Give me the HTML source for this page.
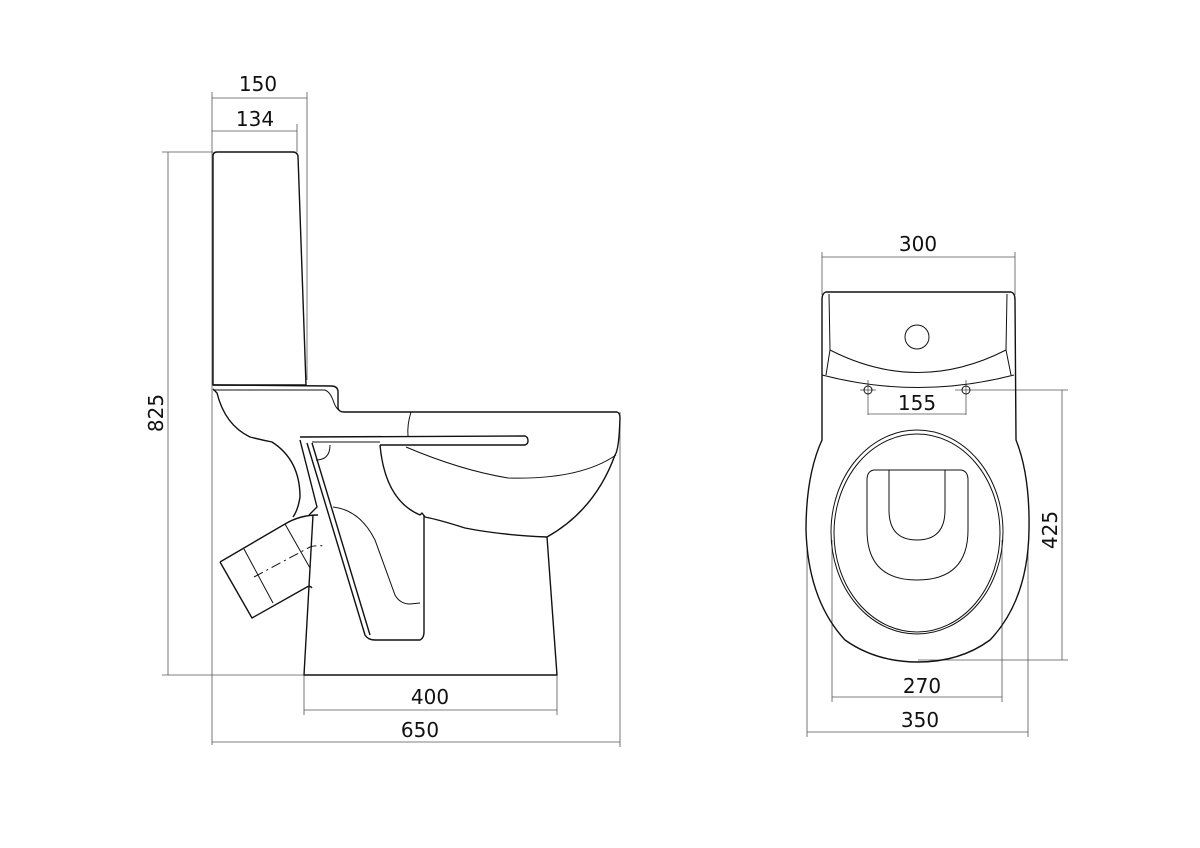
<!DOCTYPE html>
<html><head><meta charset="utf-8"><style>
html,body{margin:0;padding:0;background:#fff}
svg{display:block}
text{font-family:"DejaVu Sans","Liberation Sans",sans-serif;font-size:20px;fill:#111;text-anchor:middle}
.t{stroke:#555;stroke-width:0.8;fill:none}
.o{stroke:#111;stroke-width:1.4;fill:none;stroke-linejoin:round}
.f{stroke:#111;stroke-width:1;fill:none}
</style></head><body>
<svg width="1200" height="848" viewBox="0 0 1200 848">
<g class="t">
<line x1="212" y1="92" x2="212" y2="745"/>
<line x1="307" y1="92" x2="307" y2="380"/>
<line x1="212" y1="98" x2="307" y2="98"/>
<line x1="297" y1="124" x2="297" y2="152"/>
<line x1="212" y1="131" x2="297" y2="131"/>
<line x1="162" y1="152" x2="213" y2="152"/>
<line x1="168" y1="152" x2="168" y2="675"/>
<line x1="162" y1="675" x2="304" y2="675"/>
<line x1="304" y1="675" x2="304" y2="715"/>
<line x1="557" y1="675" x2="557" y2="715"/>
<line x1="304" y1="710" x2="557" y2="710"/>
<line x1="620" y1="412" x2="620" y2="747"/>
<line x1="212" y1="742" x2="620" y2="742"/>
</g>
<text x="258" y="91">150</text>
<text x="255" y="126">134</text>
<text x="430" y="704">400</text>
<text x="420" y="737">650</text>
<text transform="translate(163,413) rotate(-90)">825</text>
<path class="o" d="M213,385 L213,156 Q213,152 217,152 L293,152 Q297,152 298,156 L306,385 Z"/>
<path class="o" d="M213,385 L331,386 Q338,386 338,392 L338,408 Q339,412 344,412 L617,412 Q620,413 620,418 Q619,450 615,455 Q595,510 547,537 L557,675 L304,675 L313,515"/>
<path class="o" d="M213,389 L217,393 Q225,425 250,437 Q262,440 272,442 Q300,460 300,497 Q298,510 293,517"/>
<path class="f" d="M213,390 L325,390 Q330,392 333,400 Q336,410 342,412"/>
<path class="f" d="M411,412 Q407,425 408,436"/>
<path class="o" d="M300,437 L525,436 Q528,437 528,441 Q528,444 525,445 L380,445"/>
<path class="f" d="M406,447 Q460,470 508,478 Q580,480 616,455"/>
<path class="o" d="M380,445 Q385,500 420,515 L422,513 L425,517 Q440,520 465,528 Q500,535 547,537"/>
<path class="o" d="M300,440 L317,507 L309,515"/>
<path class="o" d="M307,443 L365,635 Q368,640 375,640 L420,640 Q424,638 424,632 L424,515"/>
<path class="o" d="M312,443 L370,635"/>
<path class="f" d="M312,442 L380,442 M330,445 Q330,460 316,460"/>
<path class="f" d="M333,507 Q360,510 375,540 L395,595 Q400,604 410,604 L420,603"/>
<path class="o" d="M285,524 Q300,515 318,515 M220,562 L285,524 M220,562 L252,618 L307,587 Q310,585 312,588"/>
<path class="f" d="M244,549 L273,603 M285,524 L310,568"/>
<path class="f" d="M254,577 L310,547 Q315,545 326,546" stroke-dasharray="10,4,2,4"/>
<g class="t">
<line x1="822" y1="252" x2="822" y2="295"/>
<line x1="1015" y1="252" x2="1015" y2="295"/>
<line x1="822" y1="257" x2="1015" y2="257"/>
<line x1="868" y1="380" x2="868" y2="415"/>
<line x1="966" y1="380" x2="966" y2="415"/>
<line x1="868" y1="414" x2="966" y2="414"/>
<line x1="860" y1="390" x2="876" y2="390"/>
<line x1="955" y1="390" x2="1068" y2="390"/>
<line x1="918" y1="660" x2="1068" y2="660"/>
<line x1="1062" y1="390" x2="1062" y2="660"/>
<line x1="832" y1="540" x2="832" y2="702"/>
<line x1="1002" y1="540" x2="1002" y2="702"/>
<line x1="832" y1="697" x2="1002" y2="697"/>
<line x1="807" y1="550" x2="807" y2="737"/>
<line x1="1028" y1="550" x2="1028" y2="737"/>
<line x1="807" y1="732" x2="1028" y2="732"/>
</g>
<text x="918" y="251">300</text>
<text x="917" y="410">155</text>
<text x="922" y="693">270</text>
<text x="920" y="727">350</text>
<text transform="translate(1057,530) rotate(-90)">425</text>
<path class="o" d="M826,292 L1011,292 Q1015,293 1015,300 L1016,440 Q1030,475 1029,530 Q1028,600 990,640 Q960,662 918,662 Q876,662 845,640 Q808,600 806,530 Q806,475 822,440 L822,300 Q822,293 826,292 Z"/>
<path class="f" d="M829,294 L830,350 L826,375 M1007,294 L1006,350 L1011,375"/>
<path class="f" d="M830,350 Q918,395 1006,350"/>
<path class="f" d="M822,375 Q918,400 1014,375"/>
<circle class="f" cx="917" cy="337" r="12"/>
<circle class="f" cx="868" cy="390" r="4"/>
<circle class="f" cx="966" cy="390" r="4"/>
<ellipse class="f" cx="917" cy="532" rx="86" ry="102"/>
<ellipse class="f" cx="917" cy="533" rx="83" ry="99"/>
<path class="f" d="M874,470 L961,470 Q968,471 968,480 L968,530 Q968,580 917,580 Q867,580 867,530 L867,480 Q867,471 874,470 Z"/>
<path class="f" d="M889,470 L889,510 Q889,540 917,540 Q945,540 945,510 L945,470"/>
</svg>
</body></html>
